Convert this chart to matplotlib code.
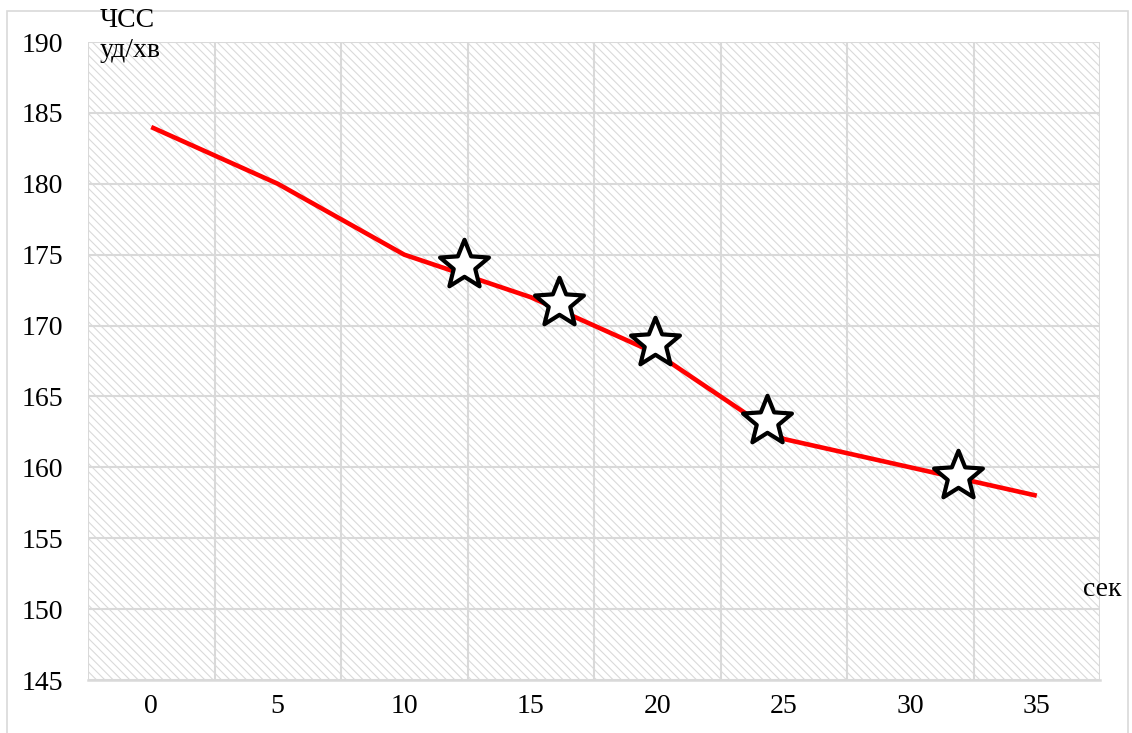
import numpy as np
import matplotlib.pyplot as plt
from matplotlib.patches import Rectangle
from matplotlib.path import Path

# Heart rate (ЧСС, уд/хв) against time (сек)
seconds = [0, 5, 10, 15, 20, 25, 30, 35]
heart_rate = [184, 180, 175, 172, 168, 162, 160, 158]

# star markers placed over the line
star_x = [12.35, 16.1, 19.9, 24.35, 31.9]
star_y = [174.3, 171.6, 168.8, 163.3, 159.4]

y_ticks = np.arange(145, 191, 5)

plt.rcParams['font.family'] = ['Liberation Serif', 'DejaVu Serif']
plt.rcParams['hatch.linewidth'] = 0.8

# a five-point star (Excel-like) as marker shape
ang = np.pi / 2 + np.arange(10) * np.pi / 5
rad = np.where(np.arange(10) % 2 == 0, 1.0, 0.44)
pts = np.column_stack([rad * np.cos(ang), rad * np.sin(ang)])
pts = np.vstack([pts, pts[:1]])
codes = [Path.MOVETO] + [Path.LINETO] * 9 + [Path.CLOSEPOLY]
star_marker = Path(pts, codes)

W, H = 1132, 733
fig = plt.figure(figsize=(W / 100, H / 100), dpi=100)
ax = fig.add_axes([88 / W, 1 - 680 / H, (1100 - 88) / W, (680 - 42) / H])

# hatched plot area background
ax.add_patch(Rectangle((0, 0), 1, 1, transform=ax.transAxes, facecolor='white',
                       edgecolor='#dadada', hatch='\\\\\\\\', linewidth=0, zorder=0))

ax.plot(seconds, heart_rate, color='#ff0000', linewidth=3.3, zorder=3, solid_capstyle='butt')
ax.plot(star_x, star_y, linestyle='none', marker=star_marker, markersize=37,
        markerfacecolor='white', markeredgecolor='black', markeredgewidth=3, zorder=4)

ax.set_xlim(-2.5, 37.5)
ax.set_ylim(145, 190)
ax.set_xticks(seconds)
ax.set_xticks(np.arange(-2.5, 38, 5), minor=True)
ax.set_yticks(y_ticks)
ax.tick_params(axis='both', which='both', length=0, labelsize=20)
ax.tick_params(axis='y', pad=18)
ax.tick_params(axis='x', pad=10)

ax.set_axisbelow(True)
ax.grid(True, axis='y', which='major', color='#d9d9d9', linewidth=1.5)
ax.grid(True, axis='x', which='minor', color='#d9d9d9', linewidth=1.5)
for side in ['top', 'right', 'left']:
    ax.spines[side].set_visible(False)
ax.spines['bottom'].set_color('#d9d9d9')
ax.spines['bottom'].set_linewidth(1.8)

fig.text(100 / W, 1 - 27 / H, 'ЧСС', fontsize=20, va='baseline', ha='left')
fig.text(100 / W, 1 - 57 / H, 'уд/хв', fontsize=20, va='baseline', ha='left')
fig.text(1083 / W, 1 - 596 / H, 'сек', fontsize=20, va='baseline', ha='left')

# outer chart border
fig.patches.append(Rectangle((7 / W, -0.05), (1128 - 7) / W, 1 - 11 / H + 0.05,
                             transform=fig.transFigure, fill=False,
                             edgecolor='#d9d9d9', linewidth=1.2))

plt.savefig('out.png', dpi=100)
